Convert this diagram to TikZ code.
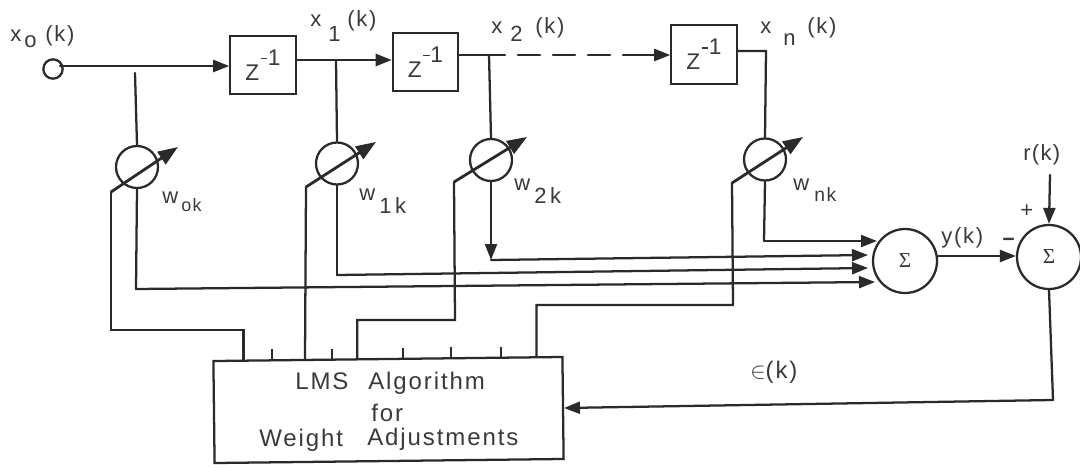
\documentclass[tikz,border=0pt]{standalone}
\usepackage{fontspec}
\setmainfont[LetterSpace=8]{Liberation Sans}
\newfontfamily\sigfont{Liberation Serif}
\usetikzlibrary{arrows.meta,calc}
\newdimen\pu \pu=0.75pt
\definecolor{ink}{HTML}{2a2a2a}
\definecolor{txt}{HTML}{3a3a3a}
\newcommand\lbl[6]{\rlap{#1}\hspace*{#2\pu}\rlap{\raisebox{-#3\pu}{#4}}\hspace*{#5\pu}#6}
\newcommand\zinv{{\fontsize{17}{20}\selectfont Z\raisebox{11pt}{\rlap{\hspace{1pt}\rule[4.5pt]{5pt}{1.2pt}}\hspace*{6.5pt}1}}}
\tikzset{
  wire/.style={draw=ink,line width=1.7pt,line cap=round,line join=miter},
  arr/.style={wire,-{Triangle[length=12pt,width=9pt]}},
  ctrl/.style={draw=ink,line width=2.1pt,line join=miter,-{Triangle[length=15pt,width=11pt]}},
  tick/.style={draw=ink,line width=1.5pt},
  delaybox/.style={draw=ink,line width=1.7pt,fill=white,inner sep=0pt,minimum width=49pt,minimum height=44pt,text=txt},
  weight/.style={draw=ink,line width=1.7pt,circle,inner sep=0pt,minimum size=31.5pt},
  summer/.style={draw=ink,line width=1.7pt,circle,fill=white,inner sep=0pt,minimum size=48pt,text=txt,font=\sigfont\fontsize{16}{18}\selectfont},
  lab/.style={anchor=base west,inner sep=0pt,text=txt,font=\fontsize{16.5}{19}\selectfont},
  boxtxt/.style={anchor=base west,inner sep=0pt,text=txt,font=\fontsize{18}{21}\selectfont}
}
\begin{document}
\begin{tikzpicture}[x=1\pu,y=-1\pu]
\useasboundingbox[fill=white] (0,0) rectangle (1080,467);
% blocks
\node[draw=ink,line width=1.7pt,circle,inner sep=0pt,minimum size=14.5pt] (x0) at (53,69) {};
\node[delaybox] (d1) at (263,65) {\zinv};
\node[delaybox] (d2) at (425.5,62) {\zinv};
\node[delaybox] (d3) at (704,54.5) {\zinv};
\node[weight] (w0) at (137,167) {};
\node[weight] (w1) at (337,163.5) {};
\node[weight] (w2) at (491,160) {};
\node[weight] (wn) at (765,159.5) {};
\node[summer] (s1) at (905,261) {Σ};
\node[summer] (s2) at (1049,257) {Σ};
\node[draw=ink,line width=1.7pt,rotate=0.66,minimum width=261.8pt,minimum height=76.5pt,inner sep=0pt] (lms) at (388.5,410) {};
% points
\foreach \n/\f in {p0/.089,t1/.169,p1/.264,t2/.341,p2/.413,t3/.544,t4/.679,t5/.822,pn/.923}
  \coordinate (\n) at ($(lms.north west)!\f!(lms.north east)$);
\coordinate (m0) at (60,66);
\coordinate (j0) at (135,73);
\coordinate (j1) at (336,60);
\coordinate (j2) at (489,55);
\coordinate (dashend) at (505,55);
\coordinate (jn) at (766,51);
\coordinate (ca0) at (111,330); \coordinate (cb0) at (111,192); \coordinate (ct0) at (178,147);
\coordinate (ca1) at (306,187); \coordinate (ct1) at (376,142);
\coordinate (ca2) at (455,320); \coordinate (cb2) at (454,182); \coordinate (ct2) at (527,137);
\coordinate (can) at (733,305); \coordinate (cbn) at (732,183); \coordinate (ctn) at (803,137);
\coordinate (e0) at (875,282); \coordinate (k0) at (136,289);
\coordinate (e1) at (868,268); \coordinate (k1) at (337,275);
\coordinate (e2) at (868,255); \coordinate (k2) at (491,260);
\coordinate (en) at (877,241); \coordinate (kn) at (764,241);
\coordinate (r) at (1050,175);
\coordinate (fb) at (1053,400);
\coordinate (fe) at (564,408);
\coordinate (ym) at (1000,256);
% forward path
\draw[arr] (m0) -- (d1.west |- m0);
\draw[wire] (d1.east |- j1) -- (j1);
\draw[arr] (j1) -- (d2.west |- j1);
\draw[wire] (d2.east |- j2) -- (dashend);
\draw[wire,dash pattern=on 22\pu off 13\pu] (dashend) ++(13,0) -- ($(d3.west |- j2)+(-34,0)$);
\draw[arr] ($(d3.west |- j2)+(-37,0)$) -- (d3.west |- j2);
\draw[wire] (d3.east |- jn) -- (jn) -- (wn.north);
% taps
\draw[wire] (j0) -- (w0.north);
\draw[wire] (j1) -- (w1.north);
\draw[wire] (j2) -- (w2.north);
% weighted outputs
\draw[wire] (w0.south) -- (k0);
\draw[arr] (k0) -- (e0);
\draw[wire] (w1.south) -- (k1);
\draw[arr] (k1) -- (e1);
\draw[arr] (w2.south) -- (k2);
\draw[arr] (k2) -- (e2);
\draw[wire] (wn.south) -- (kn);
\draw[arr] (kn) -- (en);
% adjustment lines
\draw[wire] (p0) |- (ca0) -- (cb0);
\draw[ctrl] (cb0) -- (ct0);
\draw[wire] (p1) -- (ca1);
\draw[ctrl] (ca1) -- (ct1);
\draw[wire] (p2) |- (ca2) -- (cb2);
\draw[ctrl] (cb2) -- (ct2);
\draw[wire] (pn) |- (can) -- (cbn);
\draw[ctrl] (cbn) -- (ctn);
\foreach \n in {t1,t2,t3,t4,t5} \draw[tick] (\n) -- ++(0,-10);
% summers
\draw[arr] (s1.east |- ym) -- (s2.west |- ym);
\draw[arr] (r) -- (s2.north);
\draw[wire] (s2.south) -- (fb);
\draw[arr] (fb) -- (fe);
% labels
\node[lab] (lx0) at (10,42) {\lbl{x}{14}{6}{o}{21}{(k)}};
\node[lab] (lx1) at (310,27) {\lbl{x}{18}{15}{1}{19}{(k)}};
\node[lab] (lx2) at (491,34) {\lbl{x}{19}{8}{2}{25}{(k)}};
\node[lab] (lxn) at (760,34) {\lbl{x}{23}{12}{n}{24}{(k)}};
\node[lab] (lw0) at (162,203) {\lbl{w}{19}{8}{\fontsize{13.5}{16}\selectfont ok}{0}{}};
\node[lab] (lw1) at (359,200) {\lbl{w}{20}{13}{1\,k}{0}{}};
\node[lab] (lw2) at (514,190) {\lbl{w}{20}{13}{2\,k}{0}{}};
\node[lab] (lwn) at (793,190) {\lbl{w}{21}{11}{\fontsize{14.5}{16}\selectfont nk}{0}{}};
\node[lab] (ly) at (941,243) {y(k)};
\node[lab] (lr) at (1023,160) {r\kern1pt(\kern1pt k\kern1pt)};
\node[lab] (lplus) at (1020,217) {+};
\node[lab,font=\bfseries\fontsize{16}{19}\selectfont] (lminus) at (1002,246) {−};
\node[lab,font=\fontsize{18}{21}\selectfont] (le) at (750,378) {$\in$(k)};
\node[boxtxt] (t1a) at (295,389) {LMS};
\node[boxtxt] (t1b) at (368,389) {Algorithm};
\node[boxtxt] (t2) at (371,421) {for};
\node[boxtxt] (t3a) at (259,446) {Weight};
\node[boxtxt] (t3b) at (367,445) {Adjustments};
\end{tikzpicture}
\end{document}
